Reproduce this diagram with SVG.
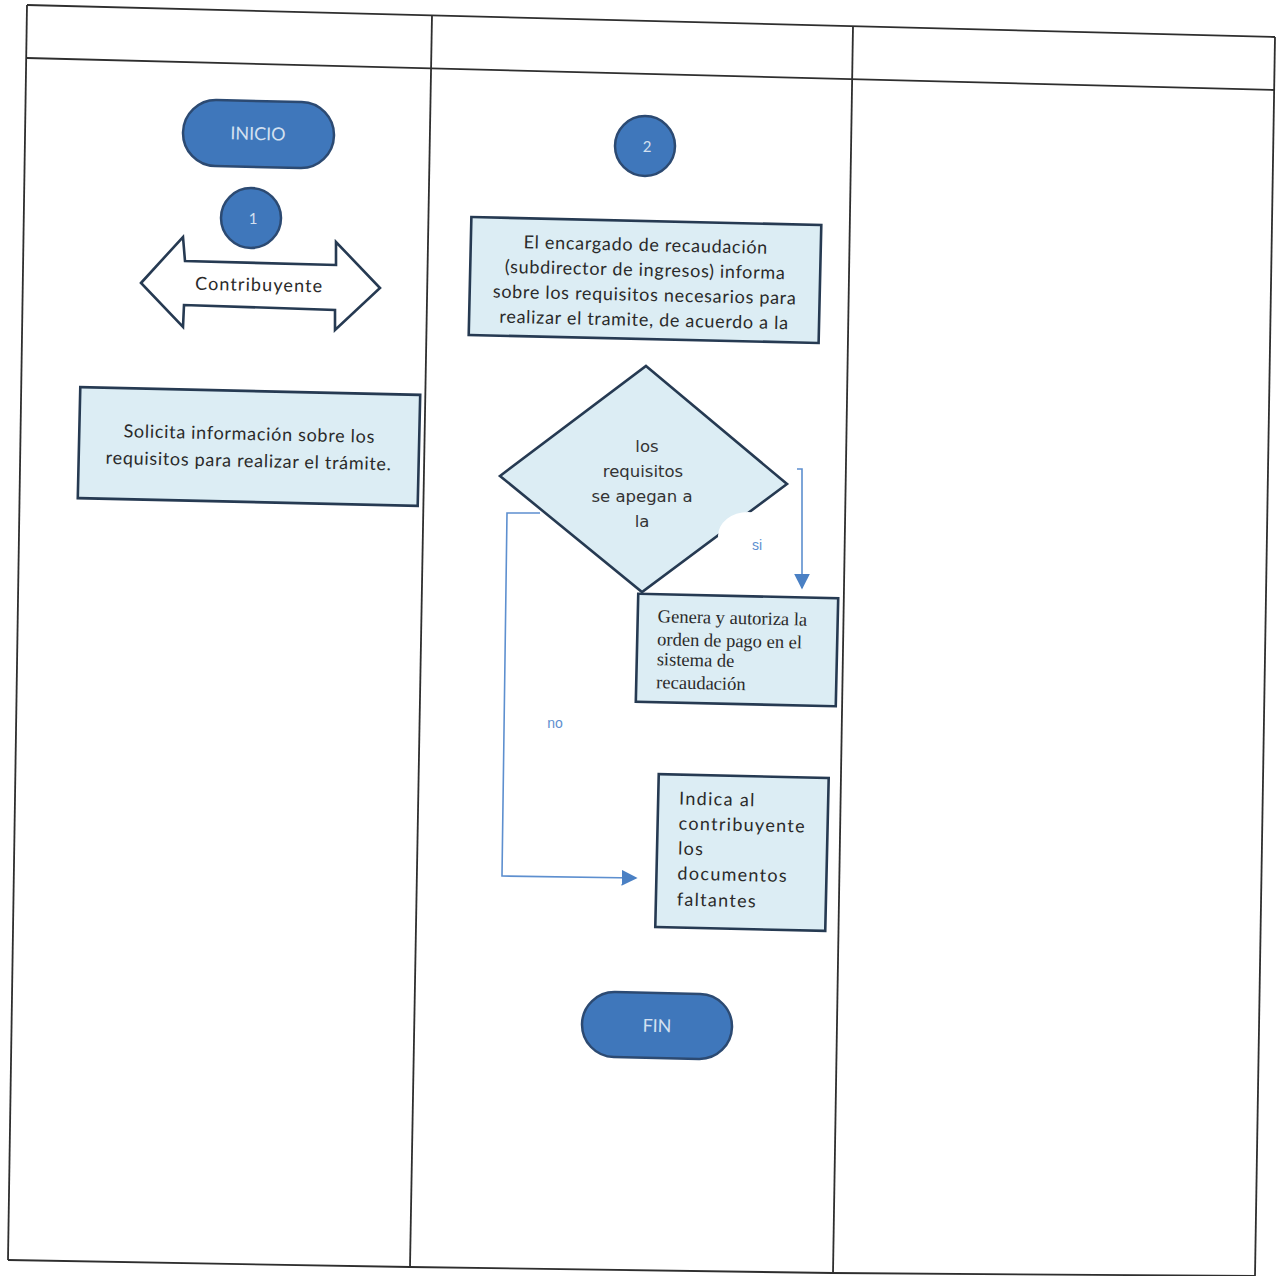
<svg xmlns="http://www.w3.org/2000/svg" width="1277" height="1276" viewBox="0 0 1277 1276">
<defs>
<style>
.grid{fill:none;stroke:#2e2e2e;stroke-width:1.8;stroke-linejoin:round}
.term{fill:#3f77bb;stroke:#2c4a72;stroke-width:2.5}
.termtxt{font-family:Lato,"Open Sans",sans-serif;font-size:18px;fill:#d3e0f0;text-anchor:middle}
.box{fill:#dcedf4;stroke:#263a52;stroke-width:2.6}
.txt{font-family:Lato,"Open Sans",sans-serif;font-size:18px;fill:#2a2a2a;letter-spacing:0.7px}
.serif{font-family:"Liberation Serif",serif;font-size:18.5px;fill:#2a2a2a}
.dtxt{font-family:"DejaVu Sans",Verdana,sans-serif;font-size:16.5px;fill:#333;text-anchor:middle}
.conn{fill:none;stroke:#5d8fcf;stroke-width:1.6}
.lbl{font-family:"Liberation Sans",Arial,sans-serif;font-size:14px;fill:#5d8fcf}
</style>
<marker id="arr" viewBox="0 0 10 10" refX="9" refY="5" markerWidth="16" markerHeight="16" markerUnits="userSpaceOnUse" orient="auto">
<path d="M0,0 L10,5 L0,10 Z" fill="#4a80c4"/>
</marker>
</defs>
<rect width="1277" height="1276" fill="#ffffff"/>
<g id="table">
<polyline class="grid" points="27,5 1275,37"/>
<polyline class="grid" points="27,58 1275,90"/>
<polyline class="grid" points="27,5 8,1260"/>
<polyline class="grid" points="432,15 410,1267"/>
<polyline class="grid" points="853,26 833,1273"/>
<polyline class="grid" points="1275,37 1255,1276"/>
<polyline class="grid" points="8,1260 410,1267 833,1273 1255,1276"/>
</g>
<g id="connectors">
<polyline class="conn" points="797,469 802,469 802,588" marker-end="url(#arr)"/>
<polyline class="conn" points="540,513 507,513 502,876 636,878" marker-end="url(#arr)"/>
</g>
<g id="inicio" transform="rotate(1.3 258 134)">
<rect class="term" x="183" y="101" width="151" height="66" rx="33"/>
<text class="termtxt" x="258" y="140">INICIO</text>
</g>
<g id="c1">
<circle class="term" cx="251" cy="218" r="30"/>
<text class="termtxt" x="253" y="224" style="font-size:15px">1</text>
</g>
<g id="contribuyente">
<polygon points="141,283 183,237 185,261 336,265 336,242 380,288 335,330 335,310 184,305 183,327" fill="#ffffff" stroke="#263a52" stroke-width="2.6" stroke-linejoin="miter"/>
<text class="txt" x="259" y="291" text-anchor="middle" transform="rotate(1.2 259 291)" style="letter-spacing:1.1px">Contribuyente</text>
</g>
<g id="solicita" transform="rotate(1.3 249 446)">
<rect class="box" x="79" y="391" width="340" height="111"/>
<text class="txt" x="249" y="440" text-anchor="middle">Solicita información sobre los</text>
<text class="txt" x="249" y="467" text-anchor="middle">requisitos para realizar el trámite.</text>
</g>
<g id="c2">
<circle class="term" cx="645" cy="146" r="30"/>
<text class="termtxt" x="647" y="152" style="font-size:15px">2</text>
</g>
<g id="encargado" transform="rotate(1.3 645 280)">
<rect class="box" x="470" y="221" width="350" height="118"/>
<text class="txt" x="645" y="251" text-anchor="middle">El encargado de recaudación</text>
<text class="txt" x="645" y="276" text-anchor="middle">(subdirector de ingresos) informa</text>
<text class="txt" x="645" y="301" text-anchor="middle">sobre los requisitos necesarios para</text>
<text class="txt" x="645" y="326" text-anchor="middle">realizar el tramite, de acuerdo a la</text>
</g>
<g id="decision">
<polygon class="box" points="646,366 787,484 642,592 500,476"/>
<ellipse cx="748" cy="536" rx="30" ry="24" fill="#ffffff"/>
<text class="dtxt" x="647" y="452">los</text>
<text class="dtxt" x="643" y="477">requisitos</text>
<text class="dtxt" x="642" y="502">se apegan a</text>
<text class="dtxt" x="642" y="527">la</text>
<text class="lbl" x="757" y="550" text-anchor="middle">si</text>
<text class="lbl" x="555" y="728" text-anchor="middle">no</text>
</g>
<g id="genera" transform="rotate(1.3 737 650)">
<rect class="box" x="637" y="596" width="200" height="108"/>
<text class="serif" x="657" y="624">Genera y autoriza la</text>
<text class="serif" x="657" y="647">orden de pago en el</text>
<text class="serif" x="657" y="667">sistema de</text>
<text class="serif" x="657" y="690">recaudación</text>
</g>
<g id="indica" transform="rotate(1.3 742 852)">
<rect class="box" x="657" y="776" width="170" height="153"/>
<text class="txt" x="678" y="806" style="letter-spacing:1.3px">Indica al</text>
<text class="txt" x="678" y="831" style="letter-spacing:1.3px">contribuyente</text>
<text class="txt" x="678" y="856" style="letter-spacing:1.3px">los</text>
<text class="txt" x="678" y="881" style="letter-spacing:1.3px">documentos</text>
<text class="txt" x="678" y="907" style="letter-spacing:1.3px">faltantes</text>
</g>
<g id="fin" transform="rotate(1.3 657 1026)">
<rect class="term" x="582" y="993" width="150" height="65" rx="32.5"/>
<text class="termtxt" x="657" y="1032">FIN</text>
</g>
</svg>
